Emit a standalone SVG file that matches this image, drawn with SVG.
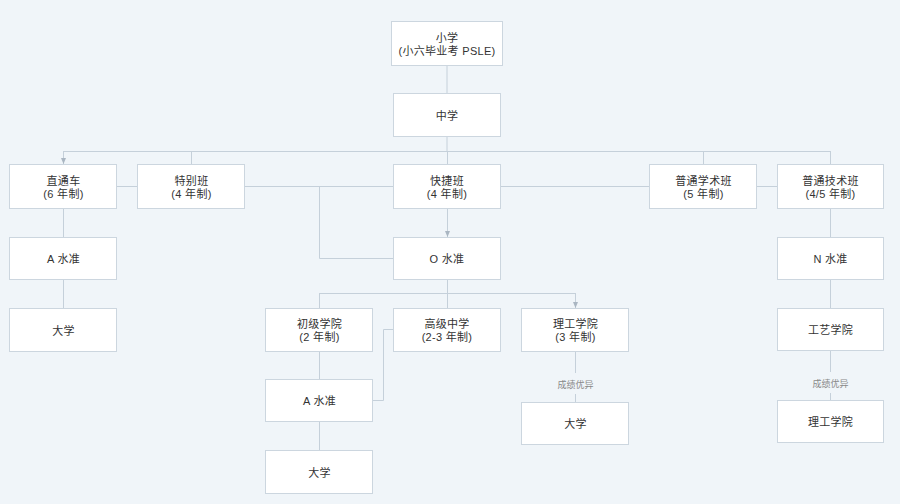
<svg xmlns="http://www.w3.org/2000/svg" width="900" height="504" viewBox="0 0 900 504">
<style>
.bg{fill:#f0f5f9}
.box{fill:#ffffff;stroke:#ccd6df;stroke-width:1}
.t{font-family:"Liberation Sans","Noto Sans CJK SC",sans-serif;font-size:11px;fill:#333333;text-anchor:middle;letter-spacing:0.3px}
.lbl{font-family:"Liberation Sans","Noto Sans CJK SC",sans-serif;font-size:9px;fill:#888888;text-anchor:middle}
.c{fill:none;stroke:#c5d0da;stroke-width:1}
</style>
<defs>
<marker id="arr" viewBox="0 0 6 6" refX="6" refY="3" markerWidth="6" markerHeight="6" markerUnits="userSpaceOnUse" orient="auto">
<path d="M0,0.5 L6,3 L0,5.5 Z" fill="#aab6c2"/>
</marker>
</defs>
<rect class="bg" x="0" y="0" width="900" height="504"/>
<g id="connectors">
<path class="c" d="M447,65 V93"/>
<path class="c" d="M447,137 V151"/>
<path class="c" d="M63.5,151.5 H830.5"/>
<path class="c" d="M63.5,151 V164" marker-end="url(#arr)"/>
<path class="c" d="M191.5,151 V164"/>
<path class="c" d="M447.5,151 V164"/>
<path class="c" d="M703.5,151 V164"/>
<path class="c" d="M830.5,151 V164"/>
<path class="c" d="M117,186.5 H137"/>
<path class="c" d="M245,186.5 H393"/>
<path class="c" d="M501,186.5 H649"/>
<path class="c" d="M757,186.5 H777"/>
<path class="c" d="M319.5,186.5 V258.5 H393"/>
<path class="c" d="M447.5,209 V237" marker-end="url(#arr)"/>
<path class="c" d="M63.5,209 V237"/>
<path class="c" d="M63.5,280 V308"/>
<path class="c" d="M830.5,209 V237"/>
<path class="c" d="M830.5,280 V308"/>
<path class="c" d="M447.5,280 V308"/>
<path class="c" d="M319.5,293.5 H575.5"/>
<path class="c" d="M319.5,293 V308"/>
<path class="c" d="M575.5,293 V308" marker-end="url(#arr)"/>
<path class="c" d="M393,329.5 H383.5 V400.5 H373"/>
<path class="c" d="M319.5,352 V379"/>
<path class="c" d="M319.5,422 V450"/>
<path class="c" d="M575.5,352 V373"/>
<path class="c" d="M575.5,394 V402"/>
<text class="lbl" x="575.5" y="387.5">成绩优异</text>
<path class="c" d="M830.5,351 V372"/>
<path class="c" d="M830.5,393 V400"/>
<text class="lbl" x="830.5" y="386.5">成绩优异</text>
</g>
<g id="n-xiaoxue"><rect class="box" x="391.5" y="21.5" width="111" height="44"/><text class="t" x="447" y="41.5">小学</text><text class="t" x="447" y="55">(小六毕业考 PSLE)</text></g>
<g id="n-zhongxue"><rect class="box" x="393.5" y="93.5" width="107" height="43"/><text class="t" x="447" y="119.5">中学</text></g>
<g id="n-zhitongche"><rect class="box" x="9.5" y="164.5" width="107" height="44"/><text class="t" x="63.5" y="185">直通车</text><text class="t" x="63.5" y="197.7">(6 年制)</text></g>
<g id="n-tebieban"><rect class="box" x="137.5" y="164.5" width="107" height="44"/><text class="t" x="191.5" y="185">特别班</text><text class="t" x="191.5" y="197.7">(4 年制)</text></g>
<g id="n-kuaijieban"><rect class="box" x="393.5" y="164.5" width="107" height="44"/><text class="t" x="447" y="185">快捷班</text><text class="t" x="447" y="197.7">(4 年制)</text></g>
<g id="n-putongxueshu"><rect class="box" x="649.5" y="164.5" width="107" height="44"/><text class="t" x="703.5" y="185">普通学术班</text><text class="t" x="703.5" y="197.7">(5 年制)</text></g>
<g id="n-putongjishu"><rect class="box" x="777.5" y="164.5" width="106" height="44"/><text class="t" x="830.5" y="185">普通技术班</text><text class="t" x="830.5" y="197.7">(4/5 年制)</text></g>
<g id="n-alevel1"><rect class="box" x="9.5" y="237.5" width="107" height="42"/><text class="t" x="63.5" y="263">A 水准</text></g>
<g id="n-olevel"><rect class="box" x="393.5" y="237.5" width="107" height="42"/><text class="t" x="447" y="263">O 水准</text></g>
<g id="n-nlevel"><rect class="box" x="777.5" y="237.5" width="106" height="42"/><text class="t" x="830.5" y="263">N 水准</text></g>
<g id="n-daxue1"><rect class="box" x="9.5" y="308.5" width="107" height="43"/><text class="t" x="63.5" y="334.5">大学</text></g>
<g id="n-chuji"><rect class="box" x="265.5" y="308.5" width="107" height="43"/><text class="t" x="319.5" y="328">初级学院</text><text class="t" x="319.5" y="340.7">(2 年制)</text></g>
<g id="n-gaoji"><rect class="box" x="393.5" y="308.5" width="107" height="43"/><text class="t" x="447" y="328">高级中学</text><text class="t" x="447" y="340.7">(2-3 年制)</text></g>
<g id="n-ligong1"><rect class="box" x="521.5" y="308.5" width="107" height="43"/><text class="t" x="575.5" y="328">理工学院</text><text class="t" x="575.5" y="340.7">(3 年制)</text></g>
<g id="n-gongyi"><rect class="box" x="777.5" y="308.5" width="106" height="42"/><text class="t" x="830.5" y="334">工艺学院</text></g>
<g id="n-alevel2"><rect class="box" x="265.5" y="379.5" width="107" height="42"/><text class="t" x="319.5" y="405">A 水准</text></g>
<g id="n-daxue2"><rect class="box" x="521.5" y="402.5" width="107" height="42"/><text class="t" x="575.5" y="428">大学</text></g>
<g id="n-ligong2"><rect class="box" x="777.5" y="400.5" width="106" height="42"/><text class="t" x="830.5" y="426">理工学院</text></g>
<g id="n-daxue3"><rect class="box" x="265.5" y="450.5" width="107" height="43"/><text class="t" x="319.5" y="476.5">大学</text></g>
</svg>
